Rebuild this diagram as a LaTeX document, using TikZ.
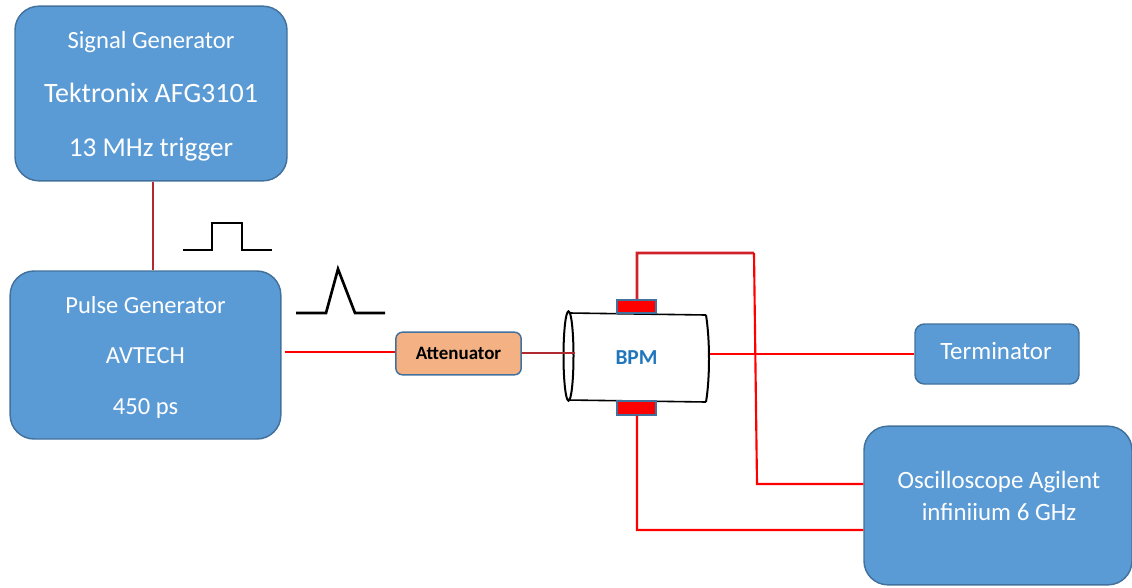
\documentclass[tikz,border=0pt]{standalone}
\usepackage{fontspec}
\setmainfont{Carlito}
\usetikzlibrary{shapes.geometric}
\definecolor{boxblue}{HTML}{5B9BD5}
\definecolor{boxedge}{HTML}{41719C}
\definecolor{boxorange}{HTML}{F4B183}
\definecolor{bpmblue}{HTML}{1F76BC}
\definecolor{wiredark}{HTML}{B02A30}
\definecolor{wiretop}{HTML}{D0202A}
\tikzset{
	bigbox/.style={draw=boxedge, fill=boxblue, line width=1.1pt, rounded corners=18pt, text=white, align=center, inner sep=0pt},
	pad/.style={draw=boxedge, fill=red, line width=1.5pt, minimum width=29pt, minimum height=10pt, inner sep=0pt},
	wire/.style={draw=red, line width=1.6pt},
	darkwire/.style={draw=wiredark, line width=1.5pt},
	pulseline/.style={black, line width=2pt},
}
\begin{document}
\begin{tikzpicture}[x=0.75pt, y=-0.75pt]
	% page size
	\useasboundingbox (0,0) rectangle (1132,587);

	% generators
	\node[bigbox, minimum width=204pt, minimum height=131pt, font=\fontsize{18.5}{40.5}\selectfont] (siggen) at (151,93.5)
		{\rule{0pt}{17pt}Signal Generator\\
		{\fontsize{21}{40.5}\selectfont Tektronix AFG3101}\\
		{\fontsize{20.4}{40.5}\selectfont 13 MHz trigger}};
	\node[bigbox, minimum width=203pt, minimum height=126pt, font=\fontsize{18.4}{38}\selectfont] (pulsegen) at (145.5,355)
		{\rule{0pt}{16pt}Pulse Generator\\
		AVTECH\\
		450 ps};

	% small boxes
	\node[draw=boxedge, fill=boxorange, line width=1.1pt, rounded corners=5pt, minimum width=94pt, minimum height=32pt, inner sep=0pt,
		font=\fontsize{14.2}{16}\selectfont\bfseries] (attn) at (458.5,353.5) {Attenuator};
	\node[bigbox, rounded corners=7pt, minimum width=123pt, minimum height=45pt] (term) at (997,354) {};
	\node[text=white, font=\fontsize{18.7}{22}\selectfont] (termtext) at (996,351) {Terminator};
	\node[bigbox, minimum width=201pt, minimum height=119pt] (scope) at (998,505.5) {};
	\node[text=white, align=center, font=\fontsize{18.7}{24}\selectfont] (scopetext) at (999,496) {Oscilloscope Agilent\\infiniium 6 GHz};

	% BPM body
	\node[minimum width=109.5pt, minimum height=65pt, inner sep=0pt, text=bpmblue, font=\fontsize{16}{18}\selectfont\bfseries] (bpm) at (636.5,357.5) {BPM};
	\draw[line width=1.2pt] (570,313) -- (706,315);
	\draw[line width=1.2pt] (568,400) -- (706,402);
	\draw[line width=1.5pt] (706,315) .. controls (710,340) and (710,378) .. (706,402);
	\node[draw, ellipse, line width=1.5pt, minimum width=7.5pt, minimum height=67pt, inner sep=0pt] (bpmface) at (568.5,356) {};
	\node[pad] (padtop) at (636.5,306.5) {};
	\node[pad] (padbot) at (636.5,408) {};

	% wires
	\coordinate (taptop) at (757,484);
	\coordinate (tapbot) at (637,530);
	\draw[darkwire] ([xshift=1.5pt]siggen.south) -- ([xshift=1.5pt]siggen.south |- pulsegen.north);
	\draw[wire] ([xshift=2.2pt, yshift=1pt]pulsegen.east |- attn.west) -- ([yshift=1pt]attn.west);
	\draw[darkwire] ([yshift=0.4pt]attn.east) -- ([yshift=0.4pt]attn.east -| bpmface.east);
	\draw[wire] (bpm.east |- term.west) -- (term.west);
	\draw[draw=wiretop, line width=2pt] ([xshift=0.4pt]padtop.north) -- (637,253) -- (754,253);
	\draw[wire] (754,253) -- (taptop) -- (taptop -| scope.west);
	\draw[wire] ([xshift=0.4pt]padbot.south) -- (tapbot) -- (tapbot -| scope.west);

	% pulse shapes
	\draw[pulseline] (183,250) -- (212,250) -- (212,223) -- (242,223) -- (242,250) -- (272,250);
	\draw[pulseline] (296,313) -- (326,313) -- (338,269) -- (355,313) -- (385,313);
\end{tikzpicture}
\end{document}
